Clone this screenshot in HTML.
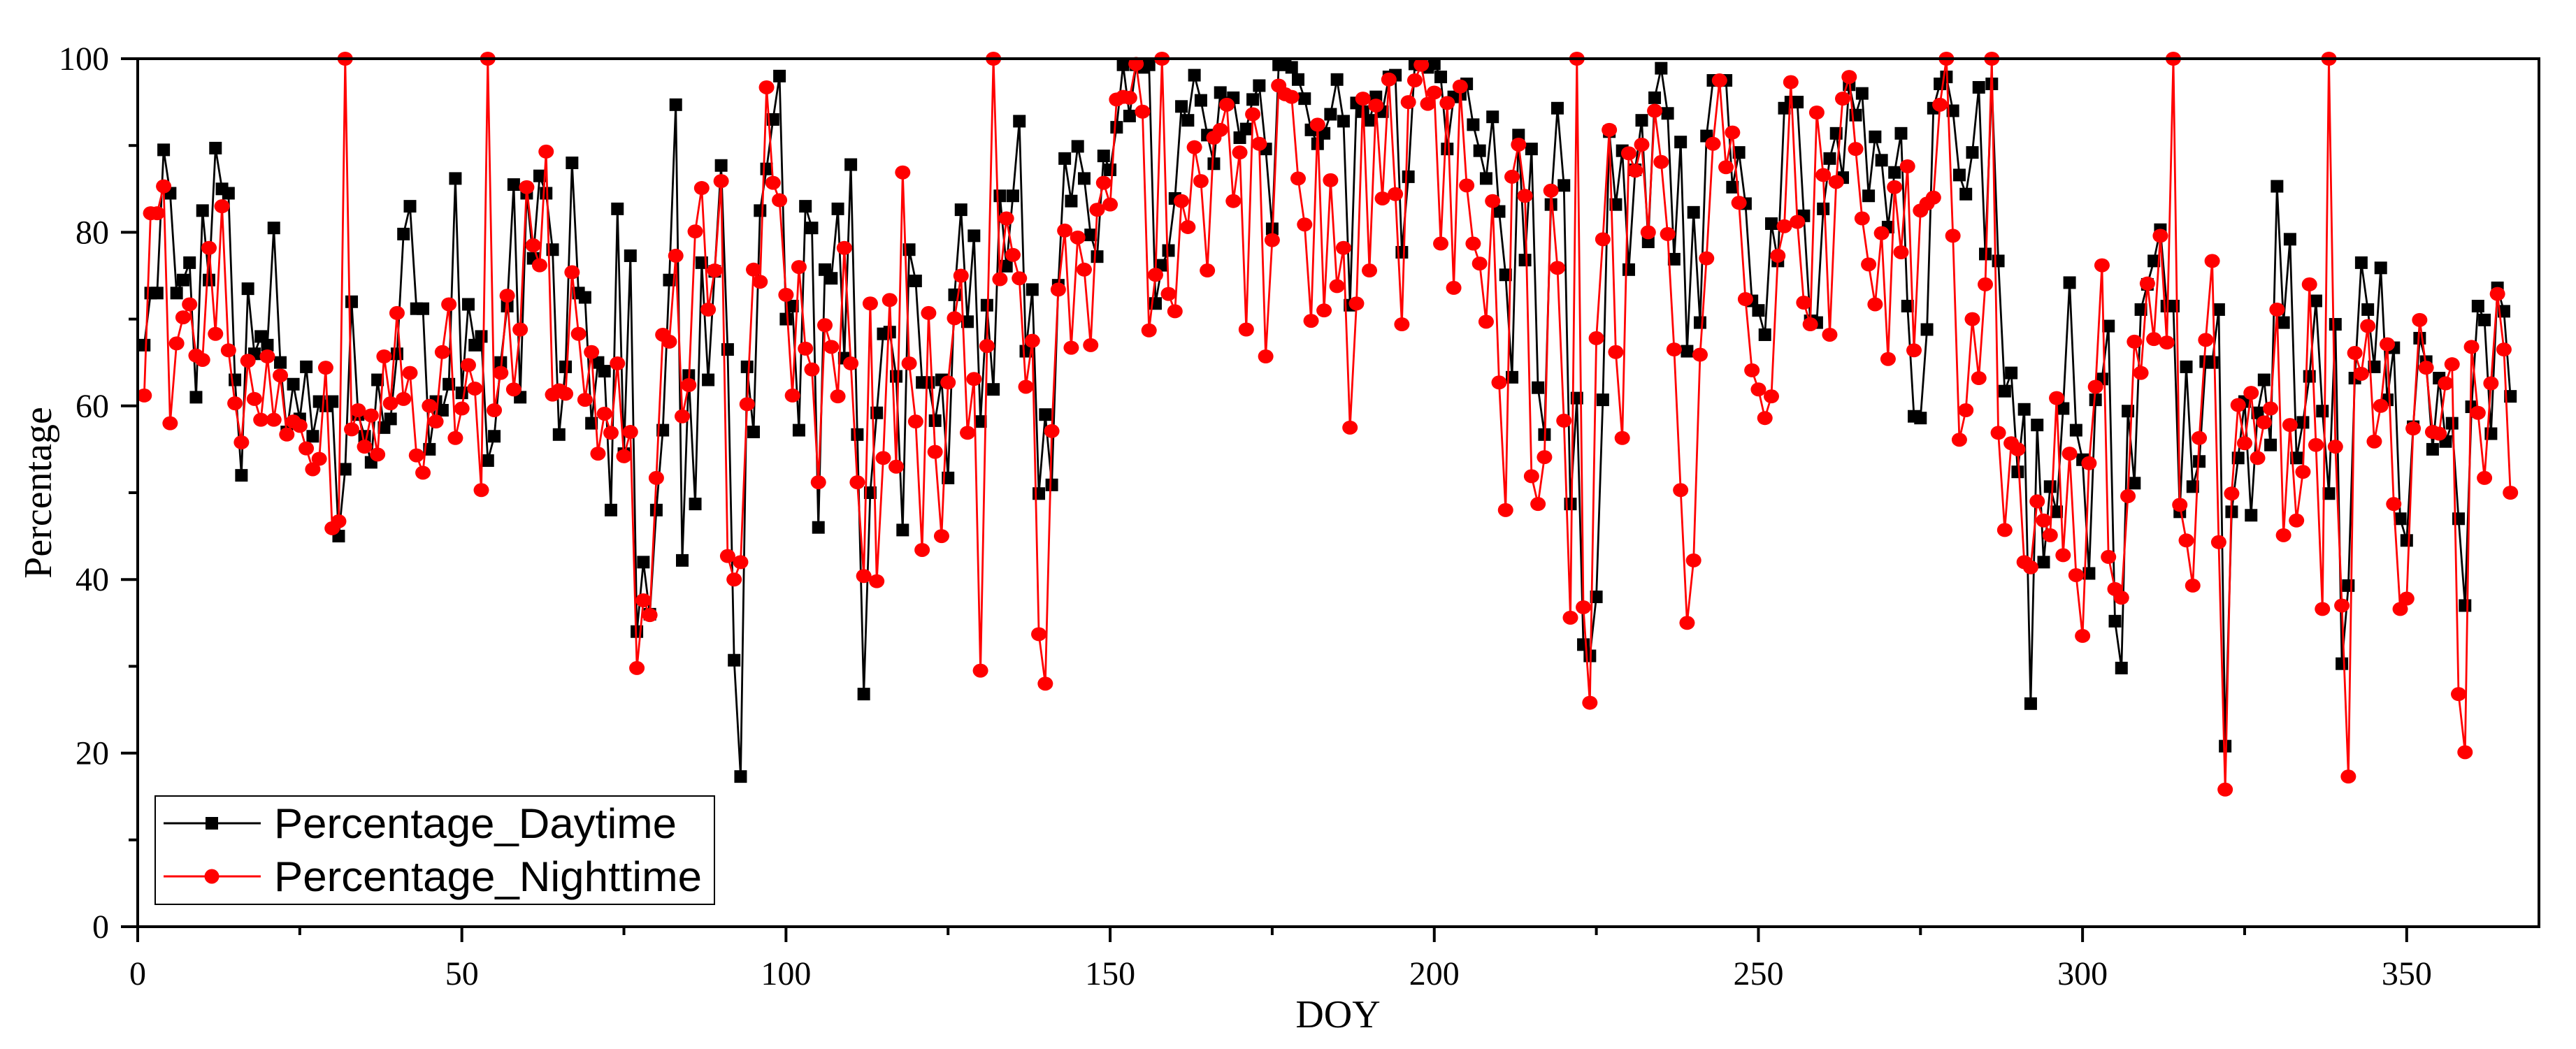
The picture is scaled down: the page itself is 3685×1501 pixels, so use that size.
<!DOCTYPE html>
<html><head><meta charset="utf-8"><style>
html,body{margin:0;padding:0;background:#fff;}
svg{display:block;}
</style></head><body>
<svg id="chart" width="3685" height="1501" viewBox="0 0 3685 1501" xmlns="http://www.w3.org/2000/svg">
<rect x="0" y="0" width="3685" height="1501" fill="#fff"/>
<g id="series"></g>
<g id="axes"></g>
<text x="60" y="705" transform="rotate(-90 60 705)" text-anchor="middle" dominant-baseline="middle" font-family="Liberation Serif, serif" font-size="56">Percentage</text>
<text x="1914" y="1470" text-anchor="middle" font-family="Liberation Serif, serif" font-size="56">DOY</text>
<g>
<rect x="222" y="1139" width="800" height="155" fill="#fff" stroke="#000" stroke-width="2"/>
<g>
<line x1="234" y1="1178" x2="373" y2="1178" stroke="#000" stroke-width="3"/>
<rect x="294" y="1169" width="18" height="18" fill="#000"/>
<text x="392" y="1199" font-family="Liberation Sans, sans-serif" font-size="60" textLength="576" lengthAdjust="spacingAndGlyphs">Percentage_Daytime</text>
</g>
<g>
<line x1="234" y1="1254" x2="373" y2="1254" stroke="#f00" stroke-width="3"/>
<circle cx="303" cy="1254" r="10.5" fill="#f00"/>
<text x="392" y="1275" font-family="Liberation Sans, sans-serif" font-size="60" textLength="612" lengthAdjust="spacingAndGlyphs">Percentage_Nighttime</text>
</g>
</g>
</svg>
<script>
const daytime = [67,73,73,89.5,84.5,73,74.5,76.5,61,82.5,
74.5,89.7,85,84.5,63,52,73.5,66,68,67,
80.5,65,57,62.5,58.5,64.5,56.5,60.5,60,60.5,
45,52.7,72,59,56.5,53.5,63,57.5,58.5,66,
79.8,83,71.2,71.2,55,60.5,59.5,62.5,86.2,61.5,
71.7,67,68,53.7,56.5,65,71.5,85.5,61,84.5,
77,86.5,84.5,78,56.7,64.5,88,73,72.5,58,
65,64,48,82.7,54.5,77.3,34,42,36,48,
57.2,74.5,94.7,42.2,63.5,48.7,76.5,63,75.5,87.7,
66.5,30.7,17.3,64.5,57,82.5,87.3,93,98,70,
71.5,57.2,83,80.5,46,75.7,74.7,82.7,65.5,87.8,
56.7,26.8,50,59.2,68.3,68.5,63.4,45.7,78,74.4,
62.7,62.7,58.3,63,51.7,72.8,82.6,69.7,79.6,58.2,
71.6,61.9,84.2,76.1,84.2,92.8,66.3,73.4,49.9,59,
50.9,73.9,88.5,83.6,89.9,86.2,79.7,77.2,88.8,87.2,
92.1,99.3,93.4,99.3,99,99.3,71.8,76.2,77.9,83.9,
94.5,92.9,98.1,95.2,91.2,87.9,96.1,94.9,95.5,90.9,
91.9,95.3,96.9,89.6,80.4,99.3,99.3,99,97.6,95.4,
91.8,90.2,91.4,93.6,97.6,92.8,71.6,94.9,93.9,92.9,
95.6,93.9,97.9,98.1,77.7,86.4,99.4,99.3,99,99.4,
97.9,89.6,95.6,95.9,97.1,92.4,89.4,86.2,93.3,82.4,
75.1,63.3,91.2,76.8,89.6,62.1,56.7,83.2,94.3,85.4,
48.7,60.9,32.5,31.2,38,60.7,91.6,83.2,89.4,75.7,
87.2,92.9,78.9,95.5,98.9,93.7,76.9,90.4,66.3,82.3,
69.6,91.1,97.5,97.5,97.5,85.2,89.2,83.3,72.1,71,
68.2,81,76.7,94.3,95,95,81.9,69.8,69.6,82.7,
88.5,91.4,86.3,97,93.5,96,84.2,91,88.3,80.6,
86.9,91.4,71.5,58.8,58.6,68.8,94.3,97.1,97.9,94,
86.6,84.4,89.2,96.7,77.5,97.1,76.7,61.7,63.8,52.4,
59.6,25.7,57.8,42,50.7,47.8,59.7,74.2,57.2,53.8,
40.7,60.7,63.1,69.2,35.2,29.8,59.4,51.1,71.1,74,
76.7,80.3,71.5,71.5,47.8,64.5,50.7,53.6,65.1,65,
71.1,20.8,47.8,54,60.5,47.4,59.2,63,55.5,85.3,
69.6,79.2,54,58.1,63.4,72.1,59.4,49.9,69.4,30.3,
39.3,63.2,76.5,71.1,64.5,75.9,60.7,66.7,47,44.5,
57.6,67.8,65.1,55,63.2,55.9,58,47,37,59.9,
71.5,69.9,56.8,73.6,70.9,61.1];
const nighttime = [61.2,82.2,82.2,85.3,58,67.2,70.2,71.7,65.8,65.3,
78.2,68.3,83,66.4,60.3,55.8,65.2,60.8,58.4,65.7,
58.4,63.5,56.7,58.2,57.7,55.1,52.7,53.9,64.4,45.9,
46.7,100,57.3,59.5,55.3,58.9,54.4,65.7,60.3,70.7,
60.8,63.8,54.3,52.3,60,58.2,66.2,71.7,56.3,59.7,
64.7,62,50.3,100,59.5,63.8,72.7,61.9,68.8,85.2,
78.5,76.2,89.3,61.3,61.8,61.4,75.4,68.3,60.7,66.2,
54.5,59.1,56.9,64.9,54.2,57,29.8,37.6,35.9,51.7,
68.2,67.4,77.3,58.8,62.4,80.1,85.1,71.1,75.6,85.9,
42.7,40,42,60.2,75.7,74.3,96.7,85.7,83.7,72.8,
61.2,76,66.6,64.2,51.2,69.3,66.8,61.1,78.2,64.9,
51.2,40.4,71.8,39.8,54,72.2,53,86.9,64.9,58.2,
43.4,70.7,54.7,45,62.7,70.1,75,56.9,63.1,29.5,
66.9,100,74.6,81.6,77.4,74.7,62.2,67.5,33.7,28,
57.1,73.4,80.2,66.7,79.4,75.7,67,82.6,85.7,83.2,
95.3,95.6,95.5,99.4,93.9,68.7,75.1,100,72.9,70.9,
83.6,80.6,89.8,85.9,75.6,90.9,91.8,94.7,83.6,89.2,
68.8,93.6,90.2,65.7,79.1,96.9,95.9,95.6,86.2,80.9,
69.8,92.4,71,86,73.8,78.2,57.5,71.8,95.4,75.6,
94.6,83.9,97.6,84.4,69.4,95,97.5,99.3,94.8,96.1,
78.7,94.9,73.6,96.8,85.4,78.7,76.4,69.7,83.6,62.7,
48,86.4,90.1,84.2,51.9,48.7,54.1,84.8,75.9,58.3,
35.6,100,36.8,25.8,67.8,79.2,91.8,66.2,56.3,89.1,
87.1,90.1,80,94,88.1,79.8,66.5,50.3,35,42.2,
65.9,77,90.2,97.5,87.5,91.5,83.4,72.3,64.1,61.9,
58.6,61.1,77.3,80.7,97.3,81.2,71.9,69.4,93.8,86.6,
68.2,85.8,95.4,97.9,89.6,81.6,76.3,71.7,79.9,65.4,
85.2,77.7,87.6,66.4,82.5,83.3,84,94.7,100,79.6,
56.1,59.5,70,63.2,74,100,56.9,45.7,55.7,55,
42,41.4,49,46.8,45.1,60.9,42.8,54.5,40.5,33.5,
53.4,62.2,76.2,42.6,38.9,37.9,49.6,67.4,63.8,74.1,
67.7,79.6,67.3,100,48.6,44.5,39.3,56.3,67.6,76.7,
44.3,15.8,49.9,60.1,55.7,61.5,54,58.1,59.7,71.1,
45.1,57.8,46.8,52.4,74,55.5,36.6,100,55.3,37,
17.3,66.1,63.7,69.2,55.9,60,67.1,48.7,36.6,37.8,
57.4,69.9,64.4,57,56.8,62.6,64.8,26.8,20.1,66.8,
59.2,51.7,62.6,72.9,66.5,50];
const xTicks = [0,50,100,150,200,250,300,350];
const xMinorTicks = [25,75,125,175,225,275,325];
const yTicks = [0,20,40,60,80,100];
const yMinorTicks = [10,30,50,70,90];

const NS = 'http://www.w3.org/2000/svg';
const L = 197, R = 3632, T = 84, B = 1326;
const xMin = 0, xMax = 370.4, yMin = 0, yMax = 100;
function xs(v){ return L + (v - xMin) / (xMax - xMin) * (R - L); }
function ys(v){ return B - (v - yMin) / (yMax - yMin) * (B - T); }
function mk(tag, attrs, parent){
  const e = document.createElementNS(NS, tag);
  for (const k in attrs) e.setAttribute(k, attrs[k]);
  parent.appendChild(e);
  return e;
}
const seriesG = document.getElementById('series');
const axesG = document.getElementById('axes');

function drawSeries(vals, color, kind, name){
  const g = mk('g', {}, seriesG);
  
  
  const pts = vals.map((v, i) => xs(i + 1).toFixed(1) + ',' + ys(v).toFixed(1)).join(' ');
  const pl = mk('polyline', {points: pts, fill: 'none', stroke: color, 'stroke-width': 2.8, 'stroke-linejoin': 'round'}, g);
  
  
  vals.forEach((v, i) => {
    let m;
    if (kind === 'square') {
      m = mk('rect', {x: xs(i + 1) - 9, y: ys(v) - 9, width: 18, height: 18, fill: color}, g);
    } else {
      m = mk('ellipse', {cx: xs(i + 1), cy: ys(v), rx: 11, ry: 10, fill: color}, g);
    }
    
    
  });
}
drawSeries(daytime, '#000', 'square', 'daytime');
drawSeries(nighttime, '#f00', 'circle', 'nighttime');

const frame = mk('rect', {x: L, y: T, width: R - L, height: B - T, fill: 'none', stroke: '#000', 'stroke-width': 4}, axesG);



xTicks.forEach(t => {
  const ln = mk('line', {x1: xs(t), y1: B, x2: xs(t), y2: B + 22, stroke: '#000', 'stroke-width': 4}, axesG);
  
  
  const tx = mk('text', {x: xs(t), y: 1409, 'text-anchor': 'middle', 'font-family': 'Liberation Serif, serif', 'font-size': 48}, axesG);
  tx.textContent = t;
  
  
});
xMinorTicks.forEach(t => {
  const ln = mk('line', {x1: xs(t), y1: B, x2: xs(t), y2: B + 12, stroke: '#000', 'stroke-width': 4}, axesG);
  
  
});
yTicks.forEach(t => {
  const ln = mk('line', {x1: L - 24, y1: ys(t), x2: L, y2: ys(t), stroke: '#000', 'stroke-width': 4}, axesG);
  
  
  const tx = mk('text', {x: 156, y: ys(t) + 16, 'text-anchor': 'end', 'font-family': 'Liberation Serif, serif', 'font-size': 48}, axesG);
  tx.textContent = t;
  
  
});
yMinorTicks.forEach(t => {
  const ln = mk('line', {x1: L - 13, y1: ys(t), x2: L, y2: ys(t), stroke: '#000', 'stroke-width': 4}, axesG);
  
  
});
</script>
</body></html>
